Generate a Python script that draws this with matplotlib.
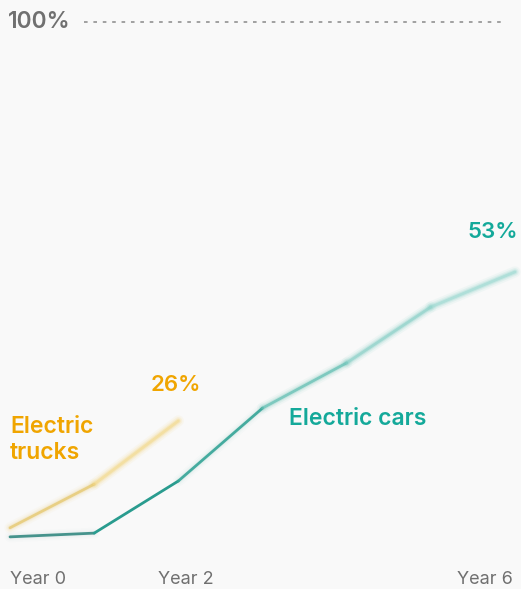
import numpy as np
import matplotlib
matplotlib.use("Agg")
from matplotlib import pyplot as plt
from matplotlib.collections import LineCollection

# data (share of new sales, %)
years = [0, 1, 2, 3, 4, 5, 6]
cars = [3.2, 3.9, 13.7, 27.4, 35.9, 46.4, 53.0]
truck_years = [0, 1, 2]
trucks = [4.9, 13.1, 25.0]
tick_years = [0, 2, 6]
tick_labels = ["Year 0", "Year 2", "Year 6"]

bg = "#f9f9f9"
teal = "#14a99a"
gold = "#f0a500"
grey = "#707070"

plt.rcParams['font.family'] = ['Inter', 'DejaVu Sans']

fig = plt.figure(figsize=(5.21, 5.89), dpi=100, facecolor=bg)
ax = fig.add_axes([0, 0, 1, 1])
ax.set_facecolor(bg)
ax.set_xlim(-0.119, 6.071)
ax.set_ylim(-6.6, 104.1)
ax.axis("off")

# 100% reference line
ax.plot([0.88, 5.88], [100, 100], color="#9a9a9a", lw=1.3,
        linestyle=(0, (2, 3.2)))
ax.text(-0.02, 100, "100%", color=grey, fontsize=16.5, fontweight="semibold",
        va="center", ha="left")


def fading_line(x, y, colors, blurs):
    pts = np.column_stack([x, y])
    segs = [pts[i:i + 2] for i in range(len(pts) - 1)]
    # soft halo for the blurry part
    for w, a in [(8, 0.10), (5.5, 0.18), (3.5, 0.30)]:
        lc = LineCollection(segs, colors=colors, linewidths=w,
                            capstyle="round", joinstyle="round")
        lc.set_alpha([a * b for b in blurs])
        ax.add_collection(lc)
    lc = LineCollection(segs, colors=colors, linewidths=2.0,
                        capstyle="round", joinstyle="round")
    lc.set_alpha([1 - 0.45 * b for b in blurs])
    ax.add_collection(lc)


fading_line(years, cars,
            ["#3e8f88", "#2a9c8f", "#35a597", "#62bfb3", "#86cfc6", "#9ad8d0"],
            [0.1, 0.0, 0.2, 0.6, 0.9, 1.0])
fading_line(truck_years, trucks,
            ["#e6c86e", "#f3d98a"],
            [0.5, 1.0])

# labels
ax.text(6.03, 60.5, "53%", color=teal, fontsize=16, fontweight="semibold",
        ha="right", va="center")
ax.text(3.315, 25.4, "Electric cars", color=teal, fontsize=16.5,
        fontweight="semibold", ha="left", va="center")
ax.text(1.97, 31.8, "26%", color=gold, fontsize=16, fontweight="semibold",
        ha="center", va="center")
ax.text(-0.0, 21.4, "Electric\ntrucks", color=gold, fontsize=16.5,
        fontweight="semibold", ha="left", va="center", linespacing=1.25)

# x tick labels
for yr, lab in zip(tick_years, tick_labels):
    ha = {0: "left", 2: "center", 6: "right"}[yr]
    xx = {0: -0.0, 2: yr + 0.09, 6: yr - 0.03}[yr]
    ax.text(xx, -4.9, lab, color=grey, fontsize=13, ha=ha, va="center")

fig.savefig("out.png", dpi=100, facecolor=bg)
